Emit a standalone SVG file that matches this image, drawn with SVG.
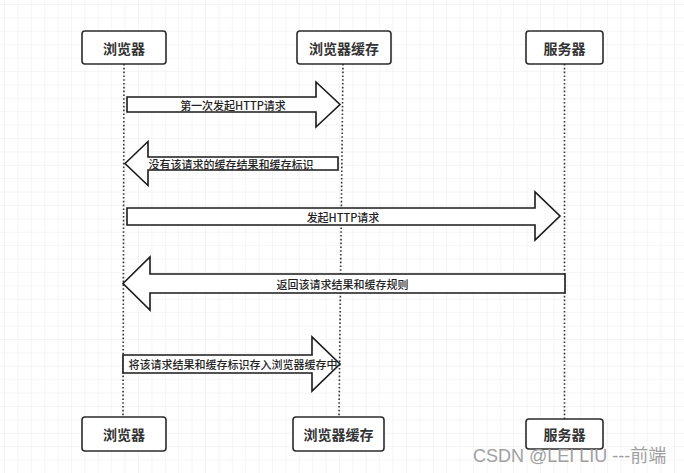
<svg xmlns="http://www.w3.org/2000/svg" width="684" height="473" viewBox="0 0 684 473">
<defs>
<pattern id="grid" width="13.4" height="13.4" patternUnits="userSpaceOnUse" x="4" y="4">
<path d="M13.4 0H0V13.4" fill="none" stroke="#ececec" stroke-width="1"/>
</pattern>
<style>
.box{fill:#fff;stroke:#2b2b2b;stroke-width:1.6}
.btxt{font-family:"Noto Sans CJK SC","Noto Sans",sans-serif;font-size:14px;font-weight:bold;fill:#333;text-anchor:middle;dominant-baseline:central}
.life{stroke:#333;stroke-width:1.6;stroke-dasharray:1.6 2.2;fill:none}
.arr{fill:#fff;stroke:#1a1a1a;stroke-width:1.6;stroke-linejoin:miter}
.atxt{font-family:"Noto Sans CJK SC","Noto Sans",sans-serif;font-size:11px;font-weight:500;fill:#222;text-anchor:middle;dominant-baseline:central}
.wm{font-family:"Liberation Sans","Noto Sans CJK SC",sans-serif;font-size:18px;fill:#a0a0a0}
</style>
</defs>
<rect width="684" height="473" fill="#fff"/>
<rect width="684" height="473" fill="url(#grid)"/>
<g id="connectors">
<line class="life" x1="124" y1="64" x2="123" y2="417"/>
<line class="life" x1="343" y1="64" x2="339" y2="417"/>
<line class="life" x1="564.5" y1="64" x2="564.5" y2="419"/>
<g id="msg1">
<path class="arr" d="M127 97H316V82L340 104.5L316 127V112H127Z"/>
<text class="atxt" x="233" y="104.5">第一次发起HTTP请求</text>
</g>
<g id="msg2">
<path class="arr" d="M125 163.5L148 141.5V157H338V170H148V185.5Z"/>
<text class="atxt" x="231" y="163.5">没有该请求的缓存结果和缓存标识</text>
</g>
<g id="msg3">
<path class="arr" d="M127 208H535V192L560 216L535 240V225H127Z"/>
<text class="atxt" x="343" y="216.5">发起HTTP请求</text>
</g>
<g id="msg4">
<path class="arr" d="M123 283.5L150 257V274H565V293H150V310Z"/>
<text class="atxt" x="342.5" y="283.5">返回该请求结果和缓存规则</text>
</g>
<g id="msg5">
<path class="arr" d="M123 355H312V337L340 364L312 391V373H123Z"/>
<text class="atxt" x="233" y="364">将该请求结果和缓存标识存入浏览器缓存中</text>
</g>
</g>
<g id="browser-top">
<rect class="box" x="82" y="31" width="84" height="33" rx="3"/>
<text class="btxt" x="124" y="47.5">浏览器</text>
</g>
<g id="cache-top">
<rect class="box" x="297" y="31" width="94" height="33" rx="3"/>
<text class="btxt" x="344" y="47.5">浏览器缓存</text>
</g>
<g id="server-top">
<rect class="box" x="526" y="31" width="77" height="33" rx="3"/>
<text class="btxt" x="564.5" y="47.5">服务器</text>
</g>
<g id="browser-bottom">
<rect class="box" x="82" y="417" width="84" height="34" rx="3"/>
<text class="btxt" x="124" y="434">浏览器</text>
</g>
<g id="cache-bottom">
<rect class="box" x="293" y="417" width="91" height="34" rx="3"/>
<text class="btxt" x="338.5" y="434">浏览器缓存</text>
</g>
<g id="server-bottom">
<rect class="box" x="526" y="419" width="77" height="30" rx="3"/>
<text class="btxt" x="564.5" y="434">服务器</text>
</g>
<text class="wm" x="473" y="462">CSDN @LEI LIU ---前端</text>
</svg>
